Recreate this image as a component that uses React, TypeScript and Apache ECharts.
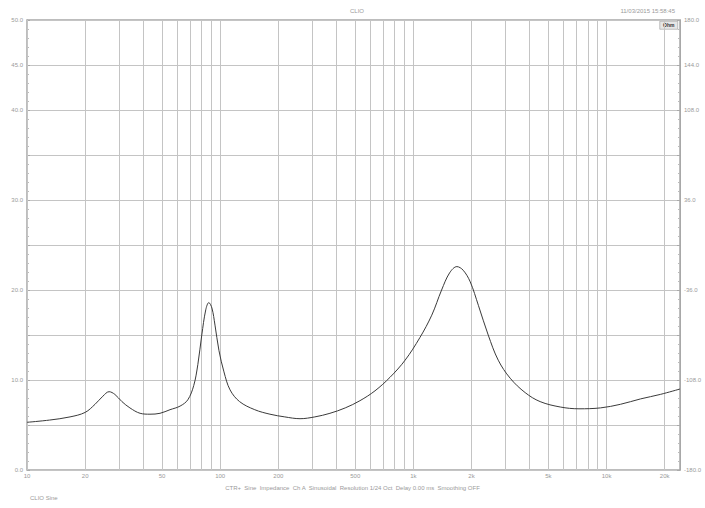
import React, { useEffect, useRef } from "react";
import * as echarts from "echarts";

const freqs = [10, 13.1, 16.7, 20, 22.5, 24.7, 26.6, 28.5, 31, 34.1, 38.5, 43.3, 48.8, 55, 62, 68, 73, 76.6, 80.3, 84.2, 87.3, 90.6, 94, 98.5, 104.6, 112.5, 126, 151, 181, 216, 259, 309, 370, 444, 529, 633, 757, 906, 1080, 1245, 1400, 1540, 1680, 1810, 1970, 2170, 2440, 2750, 3170, 3790, 4530, 5760, 7200, 9300, 11800, 15000, 19000, 24000];
const impedance = [5.3, 5.55, 5.9, 6.4, 7.3, 8.2, 8.7, 8.4, 7.6, 6.9, 6.3, 6.2, 6.3, 6.7, 7.1, 7.8, 9.4, 11.7, 15.0, 17.8, 18.6, 18.0, 16.1, 13.3, 10.9, 8.9, 7.6, 6.7, 6.2, 5.9, 5.7, 5.9, 6.3, 6.9, 7.7, 8.8, 10.3, 12.2, 14.7, 17.2, 20.0, 21.9, 22.6, 22.2, 20.9, 18.3, 15.0, 12.2, 10.2, 8.6, 7.6, 7.0, 6.8, 6.9, 7.3, 7.9, 8.4, 9.0];

const xGridValues = [10, 20, 30, 40, 50, 60, 70, 80, 90, 100, 200, 300, 400, 500, 600, 700, 800, 900, 1000, 2000, 3000, 4000, 5000, 6000, 7000, 8000, 9000, 10000, 20000];
const xTickValues = [10, 20, 50, 100, 200, 500, 1000, 2000, 5000, 10000, 20000];
const xTickLabels = ["10", "20", "50", "100", "200", "500", "1k", "2k", "5k", "10k", "20k"];

const leftLabelValues = [0, 10, 20, 30, 40, 45, 50];
const rightLabelValues = [-180, -108, -36, 36, 108, 144, 180];

const titleText = "CLIO";
const dateText = "11/03/2015 15:58:45";
const unitText = "Ohm";
const captionText = "CTR+  Sine  Impedance  Ch A  Sinusoidal  Resolution 1/24 Oct  Delay 0.00 ms  Smoothing OFF";
const footerText = "CLIO Sine";

const GRID = "#c4c4c4";
const LABEL = "#9a9a9a";

export default function App() {
  const ref = useRef<HTMLDivElement>(null);
  useEffect(() => {
    if (!ref.current) return;
    const chart = echarts.init(ref.current, undefined, { renderer: "svg" });
    const lineData = freqs.map((f, i) => [f, impedance[i]]);
    const markData = xGridValues.map((v) => {
      const idx = xTickValues.indexOf(v);
      return {
        xAxis: v,
        label: {
          show: idx >= 0,
          formatter: idx >= 0 ? xTickLabels[idx] : "",
          position: "start",
          distance: 3,
          color: LABEL,
          fontSize: 6,
          fontFamily: "Liberation Sans",
        },
      };
    });
    chart.setOption({
      animation: false,
      backgroundColor: "#ffffff",
      textStyle: { fontFamily: "Liberation Sans" },
      grid: {
        left: 27,
        right: 25,
        top: 20,
        bottom: 38,
        show: true,
        borderColor: "#a8a8a8",
        borderWidth: 1.5,
        backgroundColor: "transparent",
      },
      title: [
        { text: titleText, left: 345, top: 3, textStyle: { fontSize: 6, color: LABEL, fontWeight: "normal" } },
        { text: dateText, right: 25, top: 3, textStyle: { fontSize: 6, color: LABEL, fontWeight: "normal" } },
        { text: captionText, left: "center", top: 480, textStyle: { fontSize: 6, color: LABEL, fontWeight: "normal" } },
        { text: footerText, left: 25, top: 490, textStyle: { fontSize: 6, color: LABEL, fontWeight: "normal" } },
      ],
      graphic: [
        {
          type: "group",
          right: 27,
          top: 21,
          children: [
            { type: "rect", shape: { x: 0, y: 0, width: 18, height: 8 }, style: { fill: "#e6e6e6", stroke: "#888", lineWidth: 0.5 } },
            { type: "text", x: 9, y: 4, style: { text: unitText, fontSize: 5, fontWeight: "bold", fill: "#333", align: "center", verticalAlign: "middle" } },
          ],
        },
      ],
      xAxis: {
        type: "log",
        logBase: 10,
        min: 10,
        max: 24000,
        axisLine: { show: false },
        axisTick: { show: false },
        axisLabel: { show: false },
        splitLine: { show: false },
      },
      yAxis: [
        {
          type: "value",
          min: 0,
          max: 50,
          interval: 5,
          axisLine: { show: true, lineStyle: { color: "#a8a8a8" } },
          axisTick: { show: true, inside: true, length: 3, lineStyle: { color: "#aaa" } },
          minorTick: { show: true, splitNumber: 5, length: 2, lineStyle: { color: "#bbb" } },
          axisLabel: {
            fontSize: 6,
            color: LABEL,
            margin: 4,
            formatter: (v: number) => (leftLabelValues.indexOf(v) >= 0 ? v.toFixed(1) : ""),
          },
          splitLine: { show: true, lineStyle: { color: GRID, width: 1 } },
        },
        {
          type: "value",
          min: -180,
          max: 180,
          interval: 36,
          position: "right",
          axisLine: { show: true, lineStyle: { color: "#a8a8a8" } },
          axisTick: { show: true, inside: true, length: 3, lineStyle: { color: "#aaa" } },
          minorTick: { show: true, splitNumber: 5, length: 2, lineStyle: { color: "#bbb" } },
          axisLabel: {
            fontSize: 6,
            color: LABEL,
            margin: 4,
            formatter: (v: number) => (rightLabelValues.indexOf(v) >= 0 ? v.toFixed(1) : ""),
          },
          splitLine: { show: false },
        },
      ],
      series: [
        {
          type: "line",
          data: [],
          z: 1,
          silent: true,
          markLine: {
            silent: true,
            symbol: "none",
            z: 1,
            lineStyle: { color: GRID, width: 1, type: "solid" },
            emphasis: { disabled: true },
            data: markData,
          },
        },
        {
          type: "line",
          data: lineData,
          z: 10,
          showSymbol: false,
          smooth: 0.35,
          lineStyle: { color: "#3a3a3a", width: 1 },
        },
      ],
    });
    return () => chart.dispose();
  }, []);
  return <div ref={ref} style={{ position: "fixed", left: 0, top: 0, width: 705, height: 508 }} />;
}
